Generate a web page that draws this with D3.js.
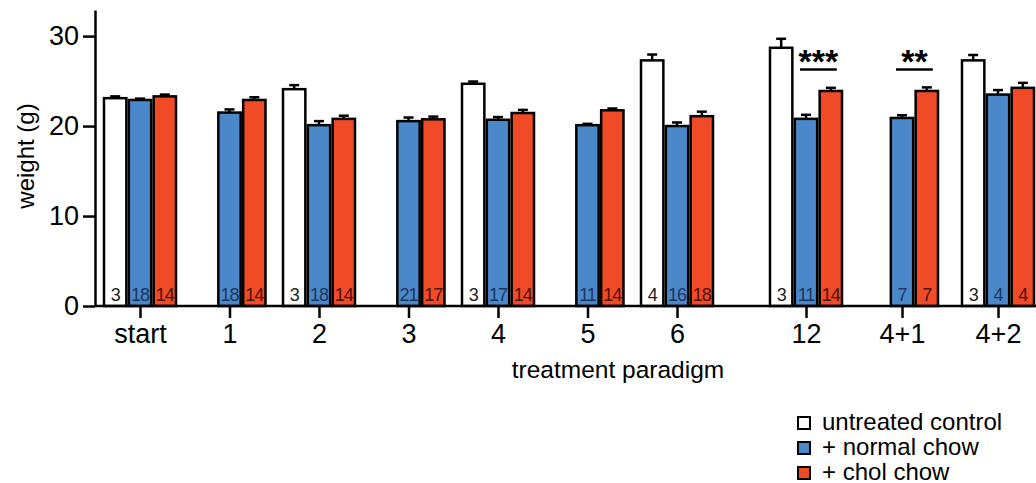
<!DOCTYPE html>
<html>
<head>
<meta charset="utf-8">
<script src="https://cdn.jsdelivr.net/npm/d3@7"></script>
<style>
  body { margin: 0; background: #fff; }
  svg { font-family: "Liberation Sans", Arial, sans-serif; }
</style>
</head>
<body>
<div id="chart"></div>
<script>
// treatment groups (x axis)
var categories = ["start", "1", "2", "3", "4", "5", "6", "12", "4+1", "4+2"];
var seriesNames = ["untreated control", "+ normal chow", "+ chol chow"];

// mean weight (g), null = group not measured
var controlMean = [23.1, null, 24.1, null, 24.7, null, 27.3, 28.7, null, 27.3];
var normalMean  = [22.9, 21.5, 20.1, 20.55, 20.7, 20.1, 20.0, 20.8, 20.9, 23.5];
var cholMean    = [23.3, 22.9, 20.8, 20.75, 21.45, 21.75, 21.1, 23.9, 23.9, 24.25];

// error (upper bar only)
var controlErr = [0.2, null, 0.45, null, 0.25, null, 0.65, 1.0, null, 0.6];
var normalErr  = [0.15, 0.35, 0.45, 0.4, 0.3, 0.15, 0.4, 0.45, 0.3, 0.5];
var cholErr    = [0.2, 0.3, 0.35, 0.3, 0.35, 0.2, 0.5, 0.35, 0.4, 0.55];

// animals per group
var controlN = [3, null, 3, null, 3, null, 4, 3, null, 3];
var normalN  = [18, 18, 18, 21, 17, 11, 16, 11, 7, 4];
var cholN    = [14, 14, 14, 17, 14, 14, 18, 14, 7, 4];

// significance marks
var sigGroups = ["12", "4+1"];
var sigLabels = ["***", "**"];
var sigLevel = 26.3;

var yTicks = [0, 10, 20, 30];

var colors = ["#ffffff", "#4a88c9", "#f04a27"];
var textColors = ["#222222", "#1d3560", "#4a1208"];

var width = 1036, height = 483;

var svg = d3.select("#chart").append("svg")
    .attr("width", width)
    .attr("height", height);

// groups 0..6 evenly spaced, later ones a bit further apart
var slot = d3.scaleLinear().domain([0, 6, 7, 9]).range([140, 677, 806, 998]);
var xGroup = d3.scaleOrdinal()
    .domain(categories)
    .range(categories.map(function(d, i) { return slot(i); }));
var xSub = d3.scaleBand().domain([0, 1, 2]).range([-36, 36]).paddingInner(0.1);

var y = d3.scaleLinear().domain([0, 32.9]).range([306, 10]);

var rows = [];
categories.forEach(function(c, i) {
  var means = [controlMean[i], normalMean[i], cholMean[i]];
  var errs = [controlErr[i], normalErr[i], cholErr[i]];
  var ns = [controlN[i], normalN[i], cholN[i]];
  for (var s = 0; s < 3; s++) {
    if (means[s] == null) continue;
    rows.push({cat: c, s: s, v: means[s], e: errs[s], n: ns[s]});
  }
});

var bw = xSub.bandwidth();

// error bars
var eb = svg.append("g").attr("stroke", "#000").attr("stroke-width", 2.5);
eb.selectAll(".ev").data(rows).enter().append("line")
  .attr("x1", function(d) { return xGroup(d.cat) + xSub(d.s) + bw / 2; })
  .attr("x2", function(d) { return xGroup(d.cat) + xSub(d.s) + bw / 2; })
  .attr("y1", function(d) { return y(d.v); })
  .attr("y2", function(d) { return y(d.v + d.e); });
eb.selectAll(".ec").data(rows).enter().append("line")
  .attr("x1", function(d) { return xGroup(d.cat) + xSub(d.s) + bw / 2 - 5; })
  .attr("x2", function(d) { return xGroup(d.cat) + xSub(d.s) + bw / 2 + 5; })
  .attr("y1", function(d) { return y(d.v + d.e); })
  .attr("y2", function(d) { return y(d.v + d.e); });

// bars
svg.append("g").selectAll("rect").data(rows).enter().append("rect")
  .attr("x", function(d) { return xGroup(d.cat) + xSub(d.s); })
  .attr("y", function(d) { return y(d.v); })
  .attr("width", bw)
  .attr("height", function(d) { return y(0) - y(d.v); })
  .attr("fill", function(d) { return colors[d.s]; })
  .attr("stroke", "#000")
  .attr("stroke-width", 2.5);

// n labels
svg.append("g").selectAll("text").data(rows).enter().append("text")
  .attr("x", function(d) { return xGroup(d.cat) + xSub(d.s) + bw / 2; })
  .attr("y", y(0) - 5)
  .attr("text-anchor", "middle")
  .attr("font-size", 18)
  .attr("letter-spacing", -1)
  .attr("fill", function(d) { return textColors[d.s]; })
  .text(function(d) { return d.n; });

// axes
var yAxis = svg.append("g")
  .attr("transform", "translate(95,0)")
  .call(d3.axisLeft(y).tickValues(yTicks).tickSize(12).tickSizeOuter(0).tickPadding(4));
yAxis.selectAll("path, line").attr("stroke", "#000").attr("stroke-width", 2.5);
yAxis.selectAll("text").attr("font-size", 27).attr("fill", "#000")
  .attr("font-family", "Liberation Sans, Arial, sans-serif");

var xAxis = svg.append("g")
  .attr("transform", "translate(0," + y(0) + ")")
  .call(d3.axisBottom(xGroup).tickSize(12).tickPadding(6));
xAxis.select(".domain").remove();
xAxis.selectAll("line").attr("stroke", "#000").attr("stroke-width", 2.5);
xAxis.selectAll("text").attr("font-size", 27).attr("fill", "#000")
  .attr("font-family", "Liberation Sans, Arial, sans-serif");
svg.append("line")
  .attr("x1", 95).attr("x2", width)
  .attr("y1", y(0)).attr("y2", y(0))
  .attr("stroke", "#000").attr("stroke-width", 2.5);

// axis titles
svg.append("text")
  .attr("transform", "translate(34,156) rotate(-90)")
  .attr("text-anchor", "middle")
  .attr("font-size", 24)
  .text("weight (g)");
svg.append("text")
  .attr("x", 618).attr("y", 378)
  .attr("text-anchor", "middle")
  .attr("font-size", 24.5)
  .text("treatment paradigm");

// significance
sigGroups.forEach(function(c, i) {
  var x1 = xGroup(c) + xSub(1) + bw / 2 - 6;
  var x2 = xGroup(c) + xSub(2) + bw / 2 + 6;
  svg.append("line")
    .attr("x1", x1).attr("x2", x2)
    .attr("y1", y(sigLevel)).attr("y2", y(sigLevel))
    .attr("stroke", "#000").attr("stroke-width", 2.5);
  svg.append("text")
    .attr("x", (x1 + x2) / 2).attr("y", y(sigLevel) + 4)
    .attr("text-anchor", "middle")
    .attr("font-size", 34)
    .attr("font-weight", "bold")
    .text(sigLabels[i]);
});

// legend
var legend = svg.append("g").attr("transform", "translate(797,416)");
seriesNames.forEach(function(name, i) {
  var g = legend.append("g").attr("transform", "translate(0," + (i * 25) + ")");
  g.append("rect")
    .attr("x", 1).attr("y", 1).attr("width", 12).attr("height", 12)
    .attr("fill", colors[i]).attr("stroke", "#000").attr("stroke-width", 2);
  g.append("text")
    .attr("x", 25).attr("y", 13.5)
    .attr("font-size", 24)
    .text(name);
});
</script>
</body>
</html>
